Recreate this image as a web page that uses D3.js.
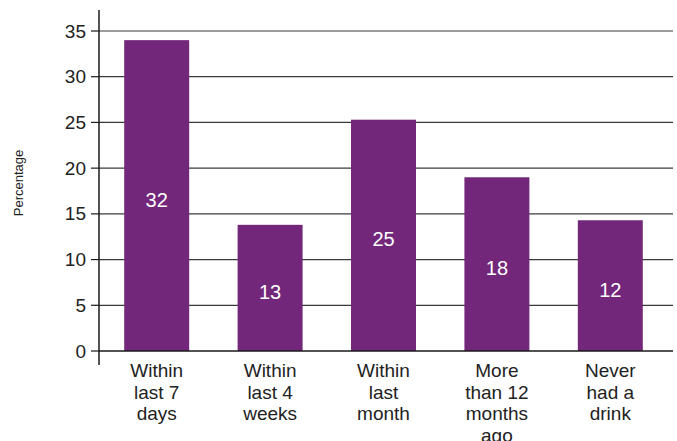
<!DOCTYPE html>
<html>
<head>
<meta charset="utf-8">
<script src="https://cdn.jsdelivr.net/npm/d3@7"></script>
<style>
  html, body { margin: 0; padding: 0; background: #fff; }
  svg { display: block; }
  text { font-family: "Liberation Sans", Arial, Helvetica, sans-serif; }
</style>
</head>
<body>
<svg id="chart" width="677" height="441"></svg>
<script>
// ---- data ----
const categories = [
  ["Within", "last 7", "days"],
  ["Within", "last 4", "weeks"],
  ["Within", "last", "month"],
  ["More", "than 12", "months", "ago"],
  ["Never", "had a", "drink"]
];
const barValues = [34, 13.8, 25.3, 19, 14.3];
const barLabels = ["32", "13", "25", "18", "12"];
const yTicks = [0, 5, 10, 15, 20, 25, 30, 35];
const yTitle = "Percentage";

// ---- layout ----
const svg = d3.select("#chart");
const x0 = 99, xEnd = 673;
const x = d3.scaleBand()
  .domain(d3.range(categories.length))
  .range([100, 667])
  .paddingInner(0.427)
  .paddingOuter(0.2135);
const y = d3.scaleLinear().domain([0, 35]).range([351, 31]);

// gridlines
svg.append("g").selectAll("line")
  .data(yTicks.filter(d => d > 0))
  .join("line")
  .attr("x1", x0).attr("x2", xEnd)
  .attr("y1", d => y(d)).attr("y2", d => y(d))
  .attr("stroke", "#3a3a3a").attr("stroke-width", 1.2);

// bars
svg.append("g").selectAll("rect")
  .data(barValues)
  .join("rect")
  .attr("x", (d, i) => x(i))
  .attr("width", x.bandwidth())
  .attr("y", d => y(d))
  .attr("height", d => y(0) - y(d))
  .attr("fill", "#73277A");

// bar value labels
svg.append("g").selectAll("text")
  .data(barValues)
  .join("text")
  .attr("x", (d, i) => x(i) + x.bandwidth() / 2)
  .attr("y", d => y(d / 2) + 11)
  .attr("text-anchor", "middle")
  .attr("fill", "#fff")
  .attr("font-size", 20)
  .text((d, i) => barLabels[i]);

// baseline (zero line)
svg.append("line")
  .attr("x1", x0).attr("x2", xEnd)
  .attr("y1", y(0)).attr("y2", y(0))
  .attr("stroke", "#1a1a1a").attr("stroke-width", 1.5);

// y axis line
svg.append("line")
  .attr("x1", x0).attr("x2", x0)
  .attr("y1", 10).attr("y2", 365)
  .attr("stroke", "#1a1a1a").attr("stroke-width", 1.5);

// y ticks
const yt = svg.append("g");
yt.selectAll("line")
  .data(yTicks)
  .join("line")
  .attr("x1", 91).attr("x2", x0)
  .attr("y1", d => y(d)).attr("y2", d => y(d))
  .attr("stroke", "#1a1a1a").attr("stroke-width", 1.2);
yt.selectAll("text")
  .data(yTicks)
  .join("text")
  .attr("x", 86)
  .attr("y", d => y(d) + 6.5)
  .attr("text-anchor", "end")
  .attr("fill", "#222")
  .attr("font-size", 19)
  .text(d => d);

// category labels
const cg = svg.append("g").selectAll("text")
  .data(categories)
  .join("text")
  .attr("text-anchor", "middle")
  .attr("fill", "#222")
  .attr("font-size", 19)
  .attr("transform", (d, i) => `translate(${x(i) + x.bandwidth() / 2},377)`);
cg.selectAll("tspan")
  .data(d => d)
  .join("tspan")
  .attr("x", 0)
  .attr("y", (d, j) => j * 21.7)
  .text(d => d);

// y title
svg.append("text")
  .attr("transform", "translate(23,183) rotate(-90)")
  .attr("text-anchor", "middle")
  .attr("fill", "#222")
  .attr("font-size", 13)
  .text(yTitle);
</script>
</body>
</html>
